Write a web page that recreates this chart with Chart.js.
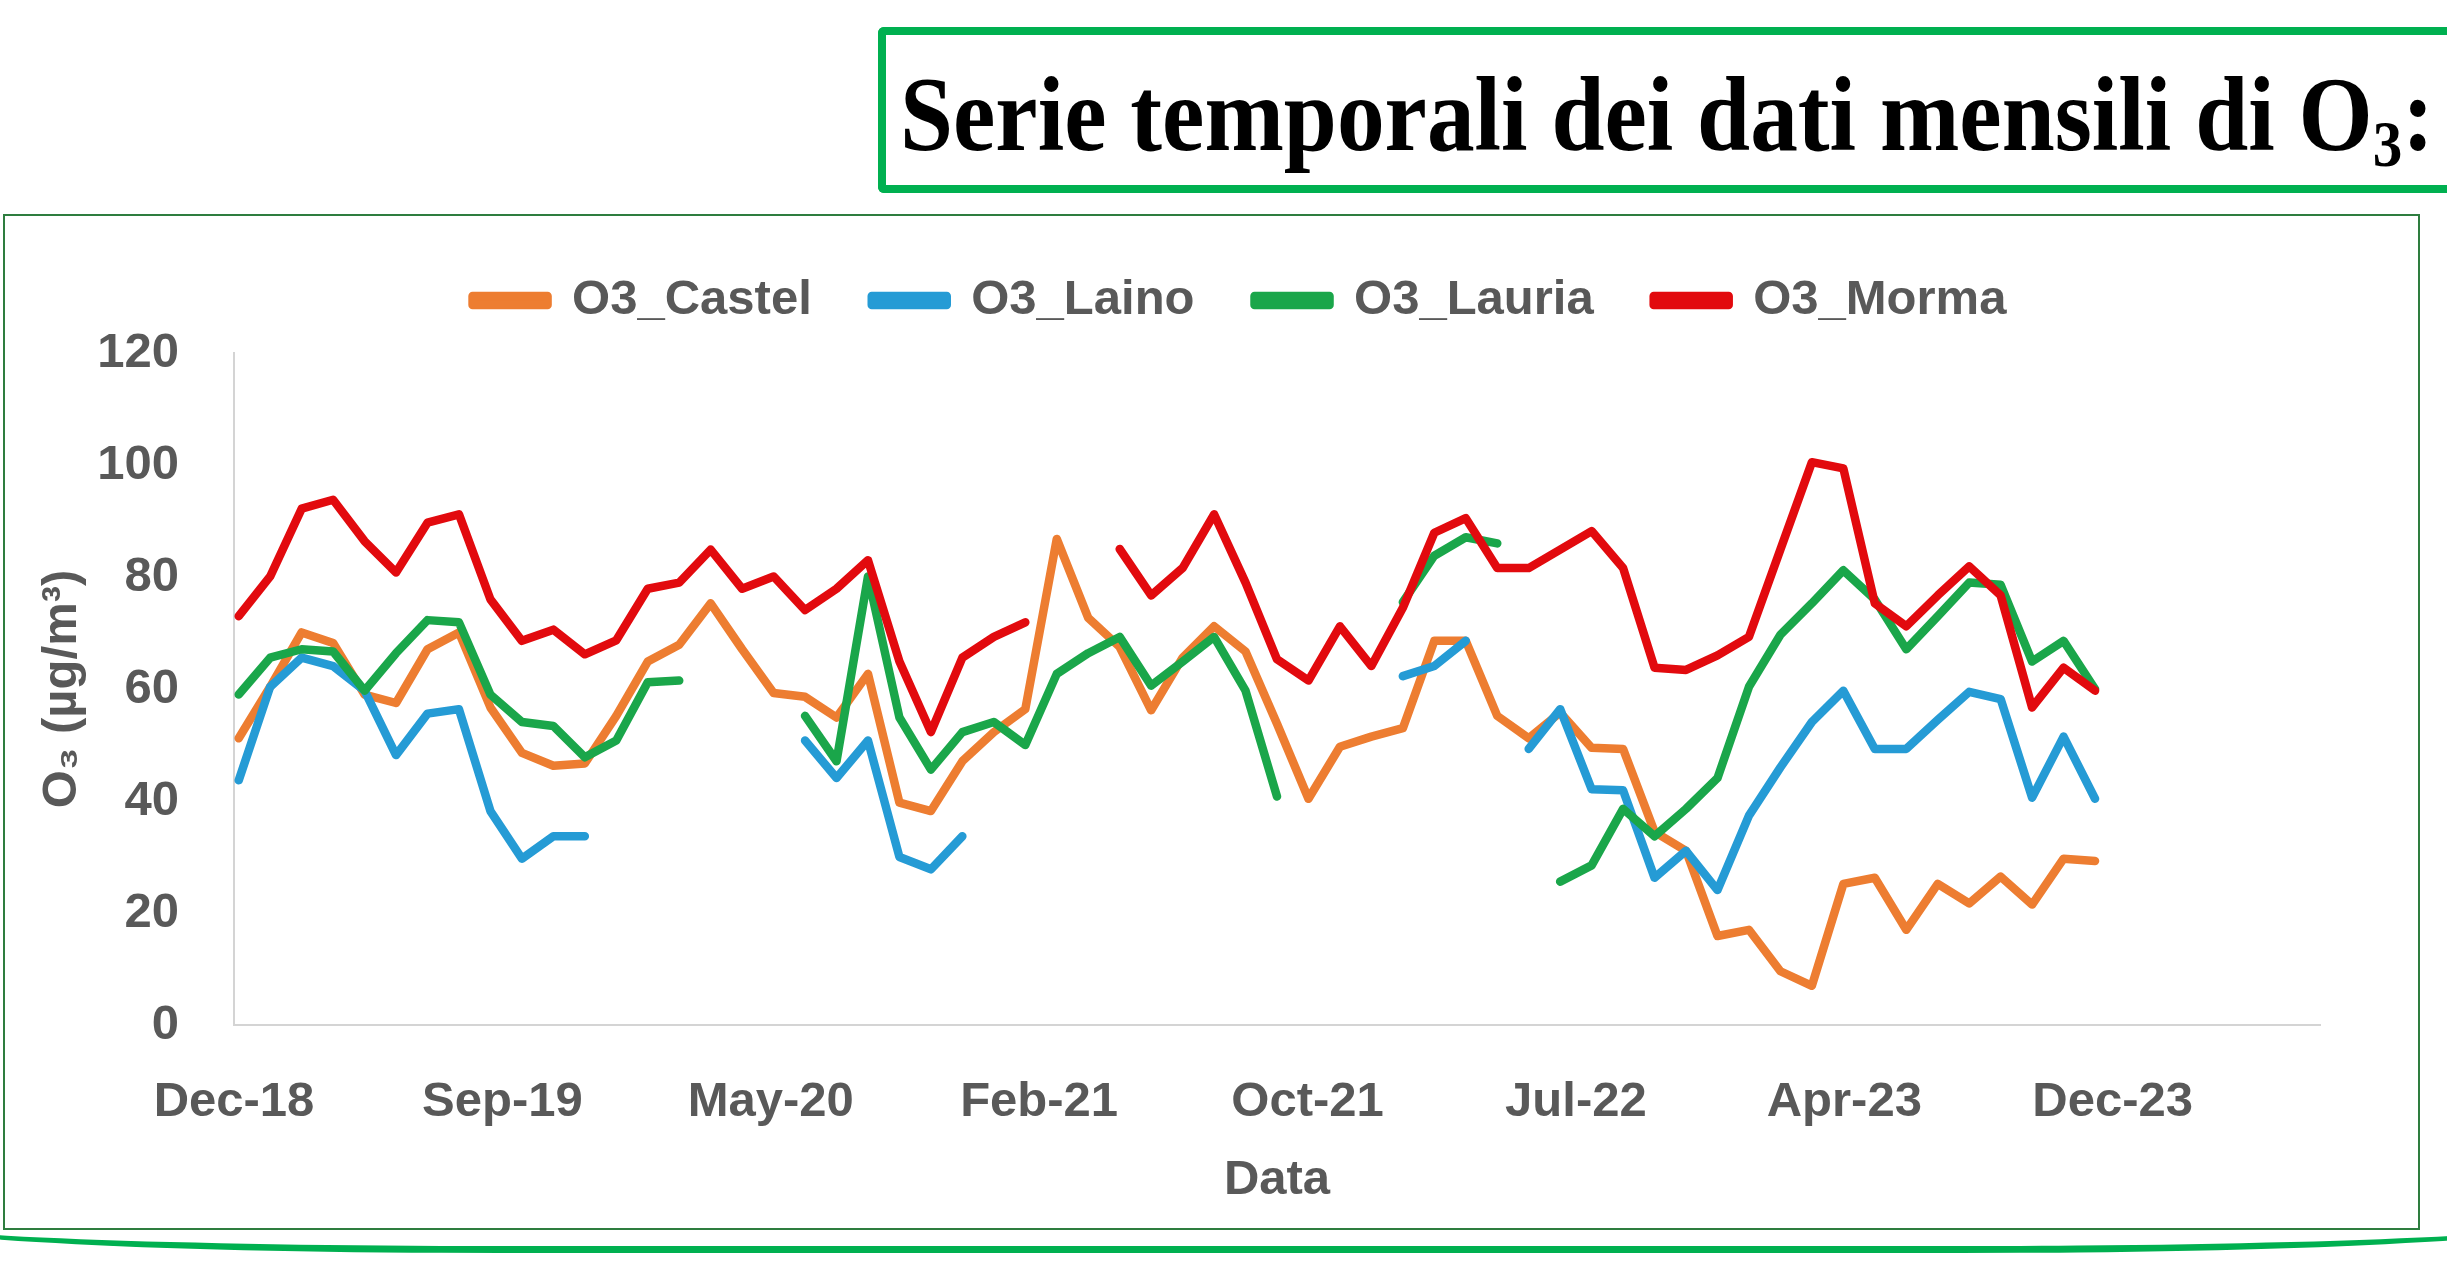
<!DOCTYPE html>
<html>
<head>
<meta charset="utf-8">
<script src="https://cdn.jsdelivr.net/npm/chart.js@4.4.1/dist/chart.umd.min.js"></script>
<style>
  html, body { margin: 0; padding: 0; background: #fff; }
  body { width: 2447px; height: 1271px; position: relative; overflow: hidden; }
  #titleBox {
    position: absolute; left: 878px; top: 27px; width: 1650px; height: 166px;
    box-sizing: border-box; border: 8px solid #00b050; border-right: none;
    border-radius: 6px 0 0 6px;
  }
  #title {
    position: absolute; left: 900px; top: 62px;
    font-family: "Liberation Serif", "DejaVu Serif", serif; font-weight: bold;
    font-size: 106px; line-height: 1; white-space: nowrap; color: #000;
    transform-origin: left top;
  }
  #title .sub { font-size: 0.62em; vertical-align: -0.25em; }
  #chartBox {
    position: absolute; left: 3px; top: 214px; width: 2417px; height: 1016px;
    box-sizing: border-box; border: 2px solid #2e7d3f; background: #fff;
  }
  #chartBox canvas { display: block; }
  #curve {
    position: absolute; left: -100px; top: 1100px; width: 2647px; height: 146px;
    border: 7px solid #00b050; border-top: none;
    border-radius: 0 0 600px 600px / 0 0 30px 30px;
  }
</style>
</head>
<body>
<div id="titleBox"></div>
<div id="title">Serie temporali dei dati mensili di O<span class="sub">3</span>:</div>
<div id="chartBox"><canvas id="chart" width="2413" height="1012"></canvas></div>
<div id="curve"></div>

<script>
// monthly O3 averages, Dec-18 .. Nov-23 (null = no data)
const startYear = 2018, startMonth = 11;
const monthNames = ['Jan','Feb','Mar','Apr','May','Jun','Jul','Aug','Sep','Oct','Nov','Dec'];

const castel = [51.2, 60.4, 70.1, 68.2, 59.0, 57.5, 67.1, 70.1, 56.7, 48.6,
                46.3, 46.7, 55.2, 64.9, 67.9, 75.3, 67.1, 59.3, 58.6, 54.9,
                62.7, 39.7, 38.2, 47.1, 52.3, 56.4, 86.8, 72.7, 67.5, 56.2,
                65.6, 71.2, 66.7, 53.8, 40.4, 49.7, 51.5, 53.0, 68.6, 68.6,
                55.2, 51.2, 55.8, 49.5, 49.3, 34.5, 31.1, 15.9, 17.0, 9.6,
                7.0, 25.2, 26.3, 17.0, 25.2, 21.7, 26.5, 21.5, 29.7, 29.3];

const laino = [43.7, 60.4, 65.6, 64.1, 59.7, 48.2, 55.6, 56.4, 38.2, 29.7,
               33.7, 33.7, null, null, null, null, null, null, 50.8, 44.1,
               50.8, 30.0, 27.8, 33.7, null, null, null, null, null, null,
               null, null, null, null, null, null, null, 62.3, 64.1, 68.6,
               null, 49.3, 56.4, 42.1, 41.9, 26.3, 31.1, 24.1, 37.4, 46.0,
               54.1, 59.7, 49.3, 49.3, 54.5, 59.5, 58.2, 40.6, 51.5, 40.4];

const lauria = [59.0, 65.6, 67.1, 66.7, 59.7, 66.4, 72.3, 71.9, 59.0, 54.1,
                53.4, 47.8, 50.8, 61.2, 61.5, null, null, null, 55.2, 47.1,
                80.1, 54.9, 45.6, 52.3, 54.1, 50.0, 62.7, 66.4, 69.3, 60.6,
                64.9, 69.3, 59.7, 40.8, null, null, null, 75.5, 83.8, 87.1,
                86.0, null, 25.6, 28.5, 38.6, 33.7, 38.6, 44.1, 60.4, 69.7,
                75.3, 81.2, 76.0, 67.1, 73.0, 79.0, 78.6, 64.9, 68.6, 60.0];

const morma = [73.0, 80.1, 92.2, 93.8, 86.4, 80.8, 89.7, 91.2, 76.0, 68.6,
               70.6, 66.2, 68.7, 77.9, 79.0, 84.9, 77.9, 80.1, 74.1, 77.9,
               83.0, 64.9, 52.3, 65.6, 69.3, 71.9, null, null, 85.0, 76.7,
               81.6, 91.2, 79.0, 65.3, 61.5, 71.2, 64.1, 74.5, 87.9, 90.5,
               81.6, 81.6, 84.9, 88.2, 81.6, 63.8, 63.4, 66.0, 69.3, 84.9,
               100.5, 99.4, 75.3, 71.2, 76.7, 81.9, 76.7, 56.7, 63.8, 59.7];

const seriesNames = ['O3_Castel', 'O3_Laino', 'O3_Lauria', 'O3_Morma'];
const seriesColors = ['#ed7d31', '#259bd5', '#1aa64a', '#e20a0e'];
const tickLabels = ['Dec-18', 'Sep-19', 'May-20', 'Feb-21', 'Oct-21', 'Jul-22', 'Apr-23', 'Dec-23'];

const months = castel.map((_, i) => {
  const m = (startMonth + i) % 12;
  const y = startYear + Math.floor((startMonth + i) / 12);
  return monthNames[m] + '-' + String(y).slice(2);
});

// fit the title text to the width of the reference heading
const title = document.getElementById('title');
const tw = title.getBoundingClientRect().width;
title.style.transform = 'scaleX(' + (1534 / tw) + ')';

// date axis: ticks every ~8.5 months, like the spreadsheet's day-based axis
const xMin = -0.15, xStep = 8.53, xMax = 66.15;

Chart.defaults.font.family = '"Liberation Sans", Arial, sans-serif';
Chart.defaults.font.weight = 'bold';
Chart.defaults.font.size = 49;
Chart.defaults.color = '#595959';

const toPoints = arr => arr.map((v, i) => ({ x: i, y: v }));
const allSeries = [castel, laino, lauria, morma];

new Chart(document.getElementById('chart'), {
  type: 'line',
  data: {
    datasets: allSeries.map((s, k) => ({
      label: seriesNames[k],
      data: toPoints(s),
      borderColor: seriesColors[k],
      backgroundColor: seriesColors[k],
      borderWidth: 8.5,
      pointRadius: 0,
      tension: 0,
      spanGaps: false,
      borderJoinStyle: 'round',
      borderCapStyle: 'round',
      order: 3 - k
    }))
  },
  options: {
    responsive: false,
    animation: false,
    devicePixelRatio: 1,
    layout: { padding: { left: 0, right: 98, top: 0, bottom: 0 } },
    plugins: {
      tooltip: { enabled: false },
      legend: {
        position: 'top',
        labels: {
          boxWidth: 75,
          boxHeight: 9,
          padding: 60,
          color: '#595959',
          font: { size: 49, weight: 'bold' },
          sort: (a, b) => a.datasetIndex - b.datasetIndex
        }
      }
    },
    scales: {
      x: {
        type: 'linear',
        min: xMin,
        max: xMax,
        grid: { display: false, drawTicks: false },
        border: { display: true, color: '#d4d4d4', width: 2 },
        afterBuildTicks: axis => {
          axis.ticks = tickLabels.map((_, k) => ({ value: xMin + k * xStep }));
        },
        ticks: {
          padding: 48,
          autoSkip: false,
          maxRotation: 0,
          callback: (v, idx) => tickLabels[idx]
        },
        title: { display: true, text: 'Data', padding: { top: 0, bottom: 18 } },
        afterFit: axis => { axis.height = 203; }
      },
      y: {
        min: 0,
        max: 120,
        grid: { display: false, drawTicks: false },
        border: { display: true, color: '#d4d4d4', width: 2 },
        ticks: { stepSize: 20, padding: 55 },
        title: { display: true, text: 'O\u2083 (\u00b5g/m\u00b3)', padding: { top: 28, bottom: 0 } },
        afterFit: axis => { axis.width = 229; }
      }
    }
  },
  plugins: [{
    id: 'legendBox',
    beforeInit(chart) {
      const fit = chart.legend.fit;
      chart.legend.fit = function () {
        fit.bind(chart.legend)();
        this.height = 137;
      };
    },
    afterLayout(chart) {
      chart.legend.left += 77;
      chart.legend.right += 77;
    }
  }]
});
</script>
</body>
</html>
